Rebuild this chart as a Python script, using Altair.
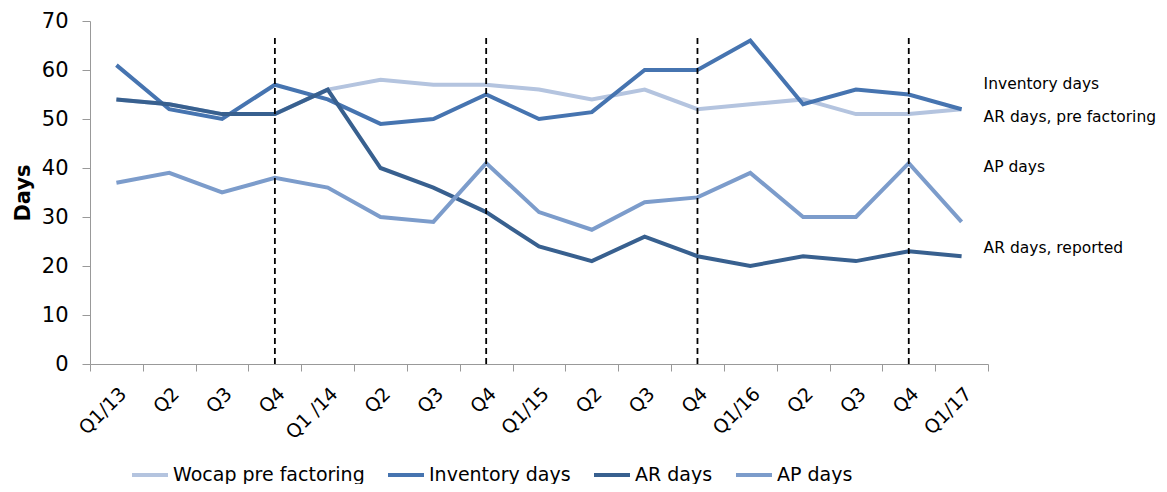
import altair as alt
import pandas as pd

quarters = ["Q1/13", "Q2/13", "Q3/13", "Q4/13", "Q1/14", "Q2/14", "Q3/14", "Q4/14",
            "Q1/15", "Q2/15", "Q3/15", "Q4/15", "Q1/16", "Q2/16", "Q3/16", "Q4/16", "Q1/17"]
tick_labels = ["Q1/13", "Q2", "Q3", "Q4", "Q1 /14", "Q2", "Q3", "Q4",
               "Q1/15", "Q2", "Q3", "Q4", "Q1/16", "Q2", "Q3", "Q4", "Q1/17"]

series_names = ["Wocap pre factoring", "Inventory days", "AR days", "AP days"]
wocap = [54, 53, 51, 51, 56, 58, 57, 57, 56, 54, 56, 52, 53, 54, 51, 51, 52]
inventory = [61, 52, 50, 57, 54, 49, 50, 55, 50, 51.4, 60, 60, 66, 53, 56, 55, 52]
ar_days = [54, 53, 51, 51, 56, 40, 36, 31, 24, 21, 26, 22, 20, 22, 21, 23, 22]
ap_days = [37, 39, 35, 38, 36, 30, 29, 41, 31, 27.4, 33, 34, 39, 30, 30, 41, 29]
series_colors = ["#b4c4df", "#4674b0", "#38608f", "#7c9ccb"]

divider_quarters = ["Q4/13", "Q4/14", "Q4/15", "Q4/16"]
divider_top = 67

annot_texts = ["Inventory days", "AR days, pre factoring", "AP days", "AR days, reported"]
annot_y = [57.2, 50.5, 40.2, 23.6]

rows = []
for name, vals in zip(series_names, [wocap, inventory, ar_days, ap_days]):
    for i, (q, v) in enumerate(zip(quarters, vals)):
        rows.append({"quarter": q, "value": v, "series": name, "order": i})
df = pd.DataFrame(rows)

div_df = pd.DataFrame({"quarter": divider_quarters, "y0": [0] * 4, "y1": [divider_top] * 4})
ann_df = pd.DataFrame({"quarter": [quarters[-1]] * 4, "y": annot_y, "text": annot_texts})

label_map = "{" + ",".join(f"'{q}':'{l}'" for q, l in zip(quarters, tick_labels)) + "}"
label_expr = f"{label_map}[datum.value]"

FONT = "DejaVu Sans"

xscale = alt.Scale(type="band", domain=quarters, paddingInner=0, paddingOuter=0)
yscale = alt.Scale(domain=[0, 70], nice=False)

xaxis = alt.Axis(title=None, labelExpr=label_expr, labelAngle=-45, labelFontSize=19,
                 labelFont=FONT, labelColor="#000", tickBand="extent", tickSize=7,
                 tickColor="#999", domainColor="#999", labelPadding=13, grid=False)
yaxis = alt.Axis(title="Days", values=list(range(0, 71, 10)), labelFontSize=21, labelFont=FONT,
                 labelColor="#000", tickSize=8, tickColor="#999", domainColor="#999",
                 labelPadding=14, titleFont=FONT, titleFontSize=21, titleFontWeight="bold",
                 titleColor="#000", titlePadding=8, grid=False)

lines = alt.Chart(df).mark_line(strokeWidth=4, strokeJoin="miter").encode(
    x=alt.X("quarter:N", scale=xscale, axis=xaxis, sort=quarters),
    y=alt.Y("value:Q", scale=yscale, axis=yaxis),
    color=alt.Color("series:N", scale=alt.Scale(domain=series_names, range=series_colors),
                    legend=alt.Legend(title=None, orient="none", direction="horizontal",
                                      legendX=40, legendY=434, symbolType="stroke",
                                      symbolStrokeWidth=4, symbolSize=1296,
                                      labelFontSize=19, labelFont=FONT, labelColor="#000",
                                      labelOffset=3, columnPadding=15, labelLimit=0)),
    order=alt.Order("order:Q"),
    detail="series:N",
)

dividers = alt.Chart(div_df).mark_rule(color="black", strokeWidth=1.8, strokeDash=[6, 4]).encode(
    x=alt.X("quarter:N", scale=xscale, sort=quarters),
    y=alt.Y("y0:Q", scale=yscale),
    y2="y1:Q",
)

annots = alt.Chart(ann_df).mark_text(align="left", baseline="middle", dx=22, fontSize=15.5,
                                      font=FONT, color="#000").encode(
    x=alt.X("quarter:N", scale=xscale, sort=quarters),
    y=alt.Y("y:Q", scale=yscale),
    text="text:N",
)

chart = alt.layer(lines, dividers, annots).properties(
    width=898, height=343,
    background="white",
    autosize=alt.AutoSizeParams(type="none"),
    padding={"left": 82, "top": 13, "right": 171, "bottom": 120},
).configure_view(stroke="transparent", strokeWidth=0).configure_axis(grid=False)

chart.save("out.html", embed_options={"renderer": "svg", "actions": False})
